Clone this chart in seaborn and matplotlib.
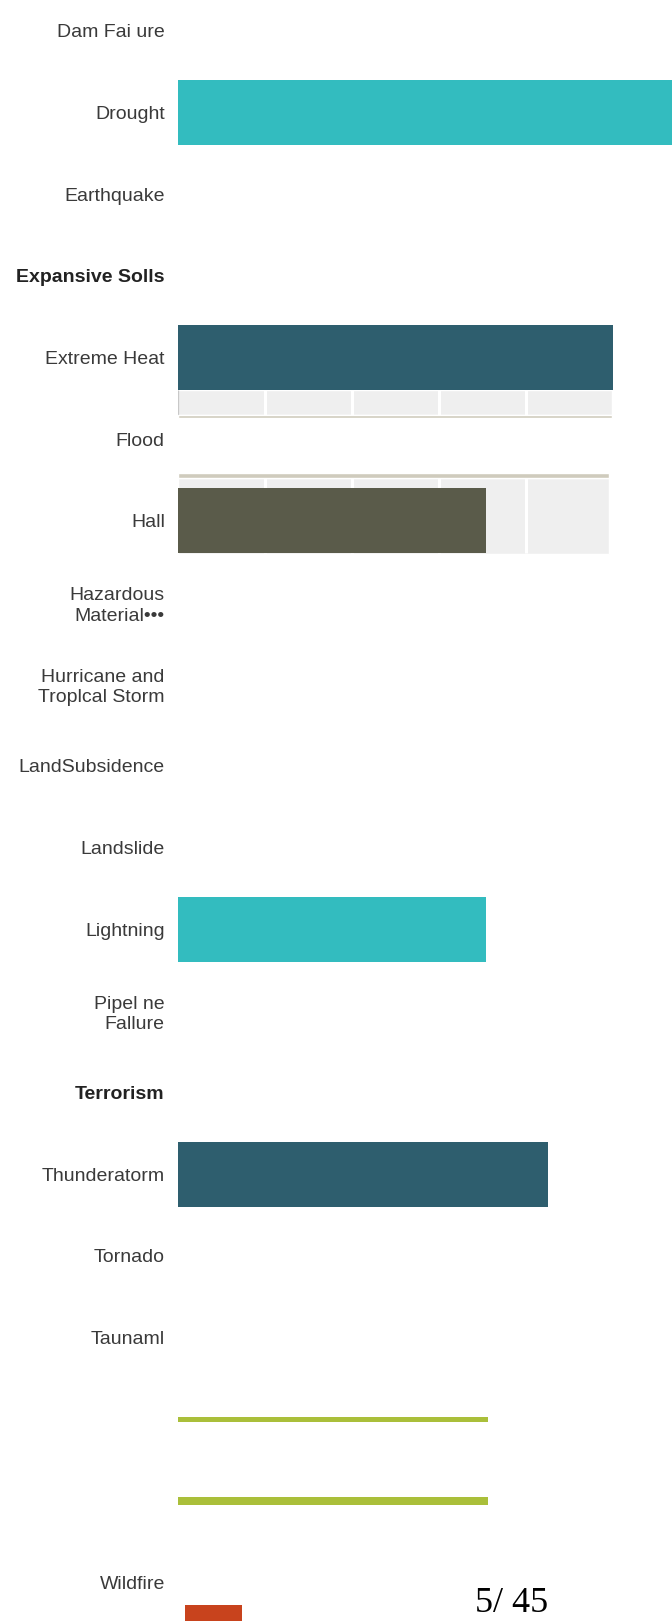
import numpy as np
import pandas as pd
import matplotlib
matplotlib.use("Agg")
import matplotlib.pyplot as plt
import seaborn as sns
from matplotlib.patches import Rectangle

# ---------------- data ----------------
categories = ["Dam Fai ure", "Drought", "Earthquake", "Expansive Solls", "Extreme Heat",
              "Flood", "Hall", "Hazardous\nMaterial•••", "Hurricane and\nTroplcal Storm",
              "LandSubsidence", "Landslide", "Lightning", "Pipel ne\nFallure", "Terrorism",
              "Thunderatorm", "Tornado", "Taunaml", " ", "  ", "Wildfire"]
values = [0, 60, 0, 0, 50, 0, 35.4, 0, 0, 0, 0, 35.4, 0, 0, 42.5, 0, 0, 0, 0, 0]
bar_colors = ["#33bcbf", "#33bcbf", "#33bcbf", "#33bcbf", "#2e5e6e", "#2e5e6e", "#5a5b4a",
              "#5a5b4a", "#5a5b4a", "#5a5b4a", "#5a5b4a", "#33bcbf", "#33bcbf", "#33bcbf",
              "#2e5e6e", "#2e5e6e", "#2e5e6e", "#2e5e6e", "#2e5e6e", "#2e5e6e"]
line_a = [0] * 17 + [35.7, 0, 0]
line_b = [0] * 18 + [35.7, 0]
bold_labels = ["Expansive Solls", "Terrorism"]
page_label = "5/ 45"
grid_ticks = [10, 20, 30, 40]

# ---------------- style ----------------
sns.set_style("white")
plt.rcParams["font.family"] = ["Liberation Sans", "DejaVu Sans"]

fig = plt.figure(figsize=(6.72, 16.21), dpi=100)
ax = fig.add_axes([178 / 672, 0, 494 / 672, 1])

df = pd.DataFrame({"hazard": categories, "value": values})
sns.barplot(data=df, x="value", y="hazard", hue="hazard", order=categories,
            hue_order=categories, palette=dict(zip(categories, bar_colors)),
            legend=False, width=0.8, linewidth=0, saturation=1, orient="h",
            ax=ax, zorder=2)
sns.barplot(x=line_a, y=categories, order=categories, color="#aabf3a", width=0.06,
            linewidth=0, saturation=1, orient="h", ax=ax, zorder=2)
sns.barplot(x=line_b, y=categories, order=categories, color="#aabf3a", width=0.1,
            linewidth=0, saturation=1, orient="h", ax=ax, zorder=2)

# scanned grey panel fragments around Extreme Heat / Flood / Hail
ax.add_patch(Rectangle((0, 4.4), 49.9, 0.306, facecolor="#efefef", zorder=0))
ax.add_patch(Rectangle((0, 4.706), 49.9, 0.03, facecolor="#cfcbbd", zorder=0.6))
ax.vlines(grid_ticks, 4.4, 4.706, color="white", lw=2.2, zorder=0.5)
ax.vlines([0], 4.4, 4.706, color="#c8c8c8", lw=1, zorder=0.5)
ax.add_patch(Rectangle((0, 5.416), 49.6, 0.06, facecolor="#cfcbbd", zorder=0.6))
ax.add_patch(Rectangle((0, 5.476), 49.6, 0.93, facecolor="#efefef", zorder=0))
ax.vlines(grid_ticks, 5.476, 6.4, color="white", lw=2.2, zorder=0.5)

ax.set_xlim(0, 56.8)
ax.set_ylim(19.47, -0.376)
ax.set_xlabel("")
ax.set_ylabel("")
ax.set_xticks([])
for s in ax.spines.values():
    s.set_visible(False)
ax.tick_params(axis="y", length=0, pad=9.5)
ax.set_yticks(range(len(categories)))
ax.set_yticklabels(categories, fontsize=14, color="#3a3a3a", ha="right",
                   multialignment="right", linespacing=1.25)
for lab in ax.get_yticklabels():
    if lab.get_text() in bold_labels:
        lab.set_fontweight("bold")
        lab.set_fontsize(14)
        lab.set_color("#222222")

fig.text(512 / 672, 1 - 1612 / 1621, page_label, family=["Liberation Serif", "DejaVu Serif"],
         fontsize=26, ha="center", va="baseline", color="black")
fig.add_artist(Rectangle((185 / 672, 0), 57 / 672, 16 / 1621, transform=fig.transFigure,
                         facecolor="#c8431d", edgecolor="none"))

fig.savefig("out.png", dpi=100, facecolor="white")
